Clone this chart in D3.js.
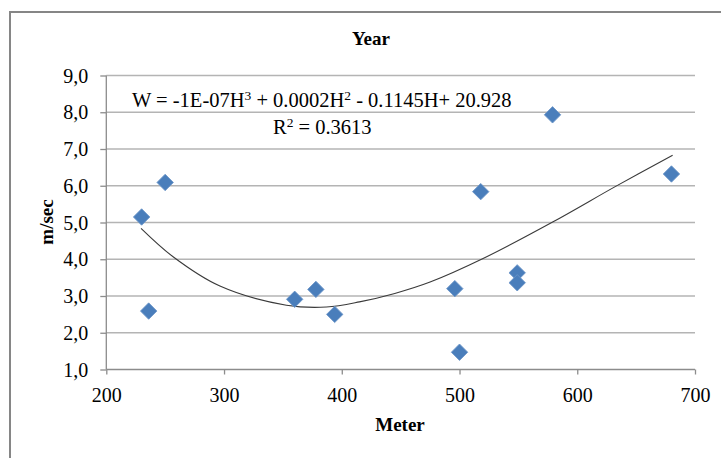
<!DOCTYPE html>
<html>
<head>
<meta charset="utf-8">
<script src="https://cdn.jsdelivr.net/npm/d3@7"></script>
<style>
  body { margin: 0; background: #fff; }
  svg text { font-family: "Liberation Serif", "DejaVu Serif", serif !important; fill: #000; }
  .grid line { stroke: #b4b4b4; stroke-width: 1.3; }
  .axis path, .axis line { stroke: #8c8c8c; stroke-width: 1.3; }
</style>
</head>
<body>
<div id="chart"></div>
<script>
// scatter points: distance (m) and speed (m/sec)
var meters = [230, 236, 250, 360, 378, 394, 496, 500, 518, 549, 549, 579, 680];
var speeds = [5.15, 2.59, 6.09, 2.91, 3.18, 2.5, 3.2, 1.47, 5.84, 3.63, 3.36, 7.93, 6.32];

// trendline
var trendX = [229.5, 257, 296.5, 353, 387, 415, 445, 475, 520, 579.5, 633, 681];
var trendY = [4.84, 4.06, 3.27, 2.75, 2.70, 2.84, 3.07, 3.38, 4.02, 5.02, 5.99, 6.83];

var xTicks = [200, 300, 400, 500, 600, 700];
var yTicks = [1, 2, 3, 4, 5, 6, 7, 8, 9];

var width = 721, height = 458;
var margin = {top: 75.5, right: 26, bottom: 88.5, left: 106.3};

var svg = d3.select("#chart").append("svg")
    .attr("width", width)
    .attr("height", height);

// outer chart border
svg.append("rect")
    .attr("x", 10).attr("y", 12)
    .attr("width", 740).attr("height", 480)
    .attr("fill", "none")
    .attr("stroke", "#868686")
    .attr("stroke-width", 2);

var x = d3.scaleLinear().domain([200, 700]).range([margin.left, width - margin.right]);
var y = d3.scaleLinear().domain([1, 9]).range([height - margin.bottom, margin.top]);

// gridlines
svg.append("g")
    .attr("class", "grid")
    .selectAll("line")
    .data(yTicks.slice(1))
    .enter().append("line")
    .attr("x1", x(200)).attr("x2", x(700))
    .attr("y1", function(d) { return y(d); })
    .attr("y2", function(d) { return y(d); });

// y axis
var yAxis = svg.append("g")
    .attr("class", "axis")
    .attr("transform", "translate(" + x(200) + ",0)")
    .call(d3.axisLeft(y).tickValues(yTicks).tickSize(6)
      .tickFormat(function(d) { return d3.format(".1f")(d).replace(".", ","); }));
yAxis.selectAll("text")
    .style("font-size", "20px")
    .attr("x", -18).attr("dy", "0.33em");

// x axis
var xAxis = svg.append("g")
    .attr("class", "axis")
    .attr("transform", "translate(0," + y(1) + ")")
    .call(d3.axisBottom(x).tickValues(xTicks).tickSize(5));
xAxis.selectAll("text")
    .style("font-size", "20px")
    .attr("y", 32).attr("dy", 0);
xAxis.select(".domain").attr("d", "M" + x(200) + ",0H" + x(700));
yAxis.select(".domain").attr("d", "M0," + y(9) + "V" + y(1));

// trendline
var trend = trendX.map(function(d, i) { return [d, trendY[i]]; });
svg.append("path")
    .datum(trend)
    .attr("fill", "none")
    .attr("stroke", "#3a3a3a")
    .attr("stroke-width", 1.1)
    .attr("d", d3.line()
      .x(function(d) { return x(d[0]); })
      .y(function(d) { return y(d[1]); })
      .curve(d3.curveCatmullRom));

// diamond markers
var diamond = d3.symbol().type(d3.symbolSquare).size(135);
svg.append("g")
    .selectAll("path")
    .data(meters)
    .enter().append("path")
    .attr("d", diamond)
    .attr("transform", function(d, i) {
      return "translate(" + x(d) + "," + y(speeds[i]) + ") rotate(45)";
    })
    .attr("fill", "#4a7ebb")
    .attr("stroke", "#6b95c8")
    .attr("stroke-width", 0.8);

// equation
var eq = svg.append("text")
    .attr("x", 132).attr("y", 107)
    .style("font-size", "20.5px");
eq.append("tspan").text("W = -1E-07H");
eq.append("tspan").attr("dy", -7).style("font-size", "13.5px").text("3");
eq.append("tspan").attr("dy", 7).text(" + 0.0002H");
eq.append("tspan").attr("dy", -7).style("font-size", "13.5px").text("2");
eq.append("tspan").attr("dy", 7).text(" - 0.1145H+ 20.928");

var r2 = svg.append("text")
    .attr("x", 273).attr("y", 134)
    .style("font-size", "20.5px");
r2.append("tspan").text("R");
r2.append("tspan").attr("dy", -7).style("font-size", "13.5px").text("2");
r2.append("tspan").attr("dy", 7).text(" = 0.3613");

// titles
svg.append("text")
    .attr("x", 371).attr("y", 45)
    .attr("text-anchor", "middle")
    .style("font-size", "19px").style("font-weight", "bold")
    .text("Year");

svg.append("text")
    .attr("x", 400).attr("y", 431)
    .attr("text-anchor", "middle")
    .style("font-size", "19px").style("font-weight", "bold")
    .text("Meter");

svg.append("text")
    .attr("transform", "translate(53,222) rotate(-90)")
    .attr("text-anchor", "middle")
    .style("font-size", "19px").style("font-weight", "bold")
    .text("m/sec");
</script>
</body>
</html>
